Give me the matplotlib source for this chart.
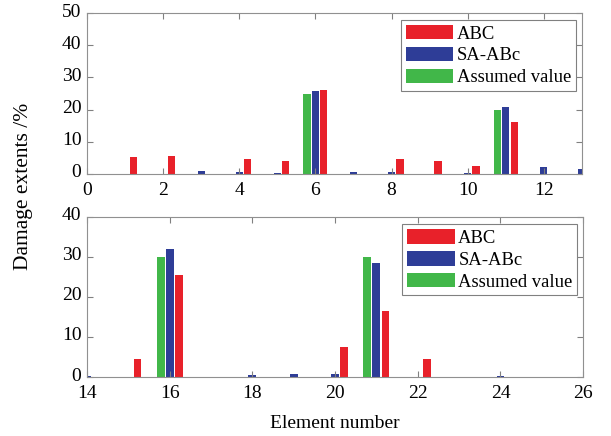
import matplotlib.pyplot as plt
from matplotlib.transforms import ScaledTranslation

plt.rcParams['font.family'] = ['Liberation Serif', 'DejaVu Serif']

# top panel: elements 1-13
elem_top = list(range(1, 14))
abc_top = [5.3, 5.7, 0, 4.5, 3.9, 26.2, 0, 4.5, 3.9, 2.6, 16.2, 0, 0]
sa_top = [0, 0, 1.0, 0.6, 0.3, 25.9, 0.6, 0.6, 0, 0.3, 20.8, 2.1, 1.4]
assumed_top = [0, 0, 0, 0, 0, 25, 0, 0, 0, 0, 20, 0, 0]

# bottom panel: elements 14-25
elem_bot = list(range(14, 26))
abc_bot = [0, 4.4, 25.5, 0, 0, 0, 7.4, 16.4, 4.4, 0, 0, 0]
sa_bot = [0.3, 0, 31.9, 0, 0.5, 0.8, 0.8, 28.5, 0, 0, 0.25, 0]
assumed_bot = [0, 0, 30, 0, 0, 0, 0, 30, 0, 0, 0, 0]

red = '#e8212a'
blue = '#2e3d97'
green = '#41b749'
w = 0.19
off = 0.22

fig = plt.figure(figsize=(6.11, 4.36), dpi=100)
ax1 = fig.add_axes([0.1424, 0.601, 0.810, 0.369])
ax2 = fig.add_axes([0.1424, 0.1353, 0.812, 0.3677])


def draw(ax, elems, abc, sa, assumed, xlim, xticks, ylim, yticks, leg_top):
    ax.bar([e + off for e in elems], abc, width=w, color=red, label='ABC')
    ax.bar(elems, sa, width=w, color=blue, label='SA-ABc')
    ax.bar([e - off for e in elems], assumed, width=w, color=green, label='Assumed value')
    ax.set_xlim(*xlim)
    ax.set_ylim(*ylim)
    ax.set_xticks(xticks)
    ax.set_yticks(yticks)
    ax.tick_params(direction='in', top=True, right=True, length=4,
                   labelsize=14, color='#808080')
    ax.tick_params(axis='x', pad=6)
    ax.tick_params(axis='y', pad=4)
    # y labels sit a little above their ticks, as in the original
    shift = ScaledTranslation(0, 3 / 100, fig.dpi_scale_trans)
    for lab in ax.get_yticklabels():
        lab.set_transform(lab.get_transform() + shift)
    for s in ax.spines.values():
        s.set_color('#909090')
        s.set_linewidth(0.8)
    leg = ax.legend(loc='upper right', bbox_to_anchor=(0.988, leg_top),
                    borderaxespad=0, fontsize=13.4, fancybox=False,
                    handlelength=2.55, handleheight=0.85, handletextpad=0.2,
                    labelspacing=0.22, borderpad=0.25, framealpha=1)
    leg.get_frame().set_edgecolor('#808080')
    leg.get_frame().set_linewidth(0.8)


draw(ax1, elem_top, abc_top, sa_top, assumed_top, (0, 13), range(0, 13, 2),
     (0, 50), range(0, 51, 10), 0.957)
draw(ax2, elem_bot, abc_bot, sa_bot, assumed_bot, (14, 26), range(14, 27, 2),
     (0, 40), range(0, 41, 10), 0.954)

fig.text(0.038, 0.573, 'Damage extents /%', rotation=90, ha='center', va='center', fontsize=15.5)
fig.text(0.548, 0.018, 'Element number', ha='center', va='baseline', fontsize=14)

fig.savefig('out.png', dpi=100)
